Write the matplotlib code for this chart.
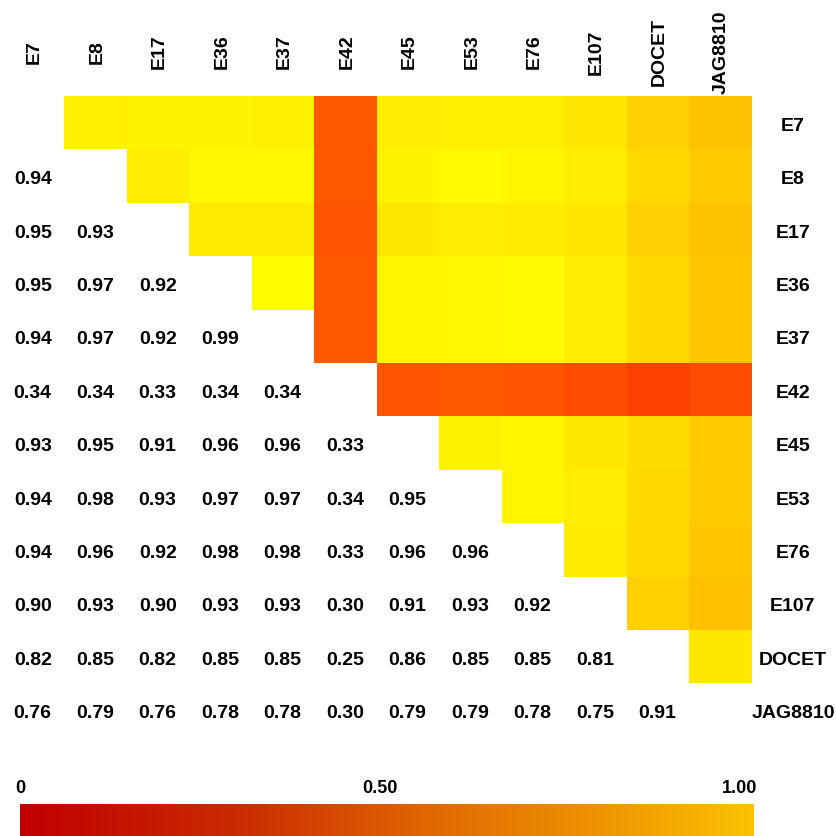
import numpy as np
import matplotlib
matplotlib.use("Agg")
import matplotlib.pyplot as plt
from matplotlib.colors import LinearSegmentedColormap

labels = ["E7", "E8", "E17", "E36", "E37", "E42", "E45", "E53", "E76",
          "E107", "DOCET", "JAG8810"]

# lower triangle of the similarity matrix, row by row
lower_rows = [
    [],
    [0.94],
    [0.95, 0.93],
    [0.95, 0.97, 0.92],
    [0.94, 0.97, 0.92, 0.99],
    [0.34, 0.34, 0.33, 0.34, 0.34],
    [0.93, 0.95, 0.91, 0.96, 0.96, 0.33],
    [0.94, 0.98, 0.93, 0.97, 0.97, 0.34, 0.95],
    [0.94, 0.96, 0.92, 0.98, 0.98, 0.33, 0.96, 0.96],
    [0.90, 0.93, 0.90, 0.93, 0.93, 0.30, 0.91, 0.93, 0.92],
    [0.82, 0.85, 0.82, 0.85, 0.85, 0.25, 0.86, 0.85, 0.85, 0.81],
    [0.76, 0.79, 0.76, 0.78, 0.78, 0.30, 0.79, 0.79, 0.78, 0.75, 0.91],
]

scale_ticks = [0, 0.5, 1.0]
scale_tick_labels = ["0", "0.50", "1.00"]
scale_colors = ["#C00000", "#CB2C00", "#E06600", "#EE9600", "#FCC200"]
scale_stops = [0.0, 0.3, 0.55, 0.8, 1.0]

n = len(labels)
sim = np.full((n, n), np.nan)
for i, row in enumerate(lower_rows):
    for j, v in enumerate(row):
        sim[i, j] = v
        sim[j, i] = v

# only the upper triangle is coloured
upper = np.ma.masked_where(np.tril(np.ones((n, n), dtype=bool)), sim)

plt.rcParams["font.family"] = ["Liberation Sans", "DejaVu Sans"]
plt.rcParams["font.weight"] = "bold"

W, H = 836, 836
fig = plt.figure(figsize=(W / 100, H / 100), dpi=100)

# grid spans x 1.5..751 px and y 96..737 px
left, right, top, bottom = 1.5, 751.0, 96.0, 737.0
ax = fig.add_axes([left / W, 1 - bottom / H, (right - left) / W, (bottom - top) / H])
ax.imshow(upper, cmap="autumn", vmin=0, vmax=1, aspect="auto",
          interpolation="nearest", extent=(-0.5, n - 0.5, n - 0.5, -0.5))
ax.set_xlim(-0.5, n - 0.5)
ax.set_ylim(n - 0.5, -0.5)
ax.axis("off")

cell_h = (bottom - top) / n
cell_w = (right - left) / n
col_label_y = -0.5 - (top - 52) / cell_h
row_label_x = -0.5 + (793 - left) / cell_w
dy = 0.065  # nudge text down so digits sit in the middle of the row

for i in range(n):
    for j in range(i):
        ax.text(j, i + dy, f"{sim[i, j]:.2f}", ha="center", va="center",
                fontsize=14, fontweight="bold", clip_on=False)

for k, name in enumerate(labels):
    ax.text(k + 0.03, col_label_y, name, rotation=90, ha="center", va="center",
            fontsize=14, fontweight="bold", clip_on=False)
    ax.text(row_label_x, k + dy, name, ha="center", va="center",
            fontsize=14, fontweight="bold", clip_on=False)

# colour scale along the bottom, partly cut off by the figure edge
scale_cmap = LinearSegmentedColormap.from_list(
    "scale", list(zip(scale_stops, scale_colors)))
cax = fig.add_axes([20 / W, 0, (754 - 20) / W, 32 / H])
gradient = np.linspace(0, 1, 256)[None, :]
cax.imshow(gradient, cmap=scale_cmap, aspect="auto",
           extent=(0, 1.02, 0, 1))
cax.set_xlim(0, 1.02)
cax.set_ylim(0, 1)
cax.xaxis.tick_top()
cax.set_xticks(scale_ticks)
cax.set_xticklabels(scale_tick_labels, fontsize=13, fontweight="bold")
cax.tick_params(axis="x", length=0, pad=5)
cax.set_yticks([])
for s in cax.spines.values():
    s.set_visible(False)

fig.savefig("out.png", dpi=100, facecolor="white")
